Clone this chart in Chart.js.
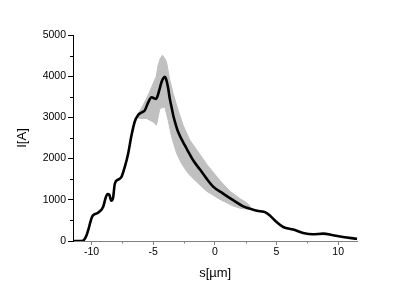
<!DOCTYPE html>
<html>
<head>
<meta charset="utf-8">
<script src="https://cdn.jsdelivr.net/npm/chart.js@4/dist/chart.umd.min.js"></script>
<style>
  html, body { margin: 0; padding: 0; background: #fff; }
  #wrap { width: 415px; height: 289px; position: relative; }
</style>
</head>
<body>
<div id="wrap"><canvas id="c" width="415" height="289"></canvas></div>
<script>
// ---- data ----
const sMean = [-11.5, -10.8, -10.6, -10.4, -10.25, -10.1, -9.95, -9.8, -9.5, -9.06, -8.85, -8.7, -8.55, -8.4, -8.25, -8.11, -7.84, -7.57, -7.3, -7.03, -6.76, -6.49, -6.22, -5.94, -5.68, -5.41, -5.13, -4.9, -4.75, -4.6, -4.45, -4.32, -4.15, -4.06, -3.95, -3.79, -3.65, -3.51, -3.38, -3.24, -2.98, -2.43, -2.3, -1.76, -1.22, -0.67, -0.14, 0.67, 1.48, 2.3, 3.11, 3.7, 4.06, 4.46, 5.0, 5.54, 6.35, 7.16, 7.95, 8.78, 9.59, 10.4, 11.35, 11.55];
const iMean = [0, 0, 30, 140, 280, 450, 590, 640, 680, 825, 1050, 1140, 1120, 980, 1050, 1390, 1490, 1555, 1800, 2120, 2560, 2900, 3060, 3120, 3170, 3360, 3490, 3460, 3450, 3560, 3720, 3860, 3960, 3985, 3930, 3720, 3450, 3250, 3060, 2900, 2650, 2320, 2250, 1960, 1740, 1515, 1320, 1150, 990, 840, 760, 720, 700, 620, 460, 340, 277, 195, 163, 180, 138, 97, 58, 50];

const sUpper = [-6.3, -6.0, -5.81, -5.41, -5.0, -4.75, -4.6, -4.4, -4.24, -4.1, -3.92, -3.65, -3.38, -2.98, -2.57, -2.03, -1.35, -0.6, 0.41, 1.22, 2.03, 2.57, 2.9];
const iUpper = [3060, 3200, 3300, 3540, 3825, 4000, 4270, 4450, 4510, 4450, 4350, 3900, 3580, 3175, 2810, 2450, 2160, 1840, 1470, 1210, 1030, 930, 840];

const sLower = [-6.3, -6.08, -5.54, -5.0, -4.73, -4.46, -4.06, -3.79, -3.51, -3.1, -2.7, -2.17, -1.48, -0.67, 0.41, 1.48, 2.1, 2.9];
const iLower = [3000, 2975, 2975, 2890, 2810, 3215, 3255, 2935, 2530, 2125, 1880, 1640, 1435, 1210, 1010, 850, 790, 770];

const xMajorTicks = [-10, -5, 0, 5, 10];
const xMinorTicks = [-7.5, -2.5, 2.5, 7.5];
const yMajorTicks = [0, 1000, 2000, 3000, 4000, 5000];
const yMinorTicks = [500, 1500, 2500, 3500, 4500];
const xTitle = 's[\u00b5m]';
const yTitle = 'I[A]';

const toPts = (xs, ys) => xs.map((x, i) => ({ x: x, y: ys[i] }));

const minorTicks = {
  id: 'minorTicks',
  afterDraw(chart) {
    const ctx = chart.ctx;
    const xs = chart.scales.x, ys = chart.scales.y;
    const area = chart.chartArea;
    ctx.save();
    ctx.lineWidth = 1;
    ctx.strokeStyle = '#808080';
    xMinorTicks.forEach(v => {
      const px = Math.round(xs.getPixelForValue(v)) + 0.5;
      ctx.beginPath();
      ctx.moveTo(px, area.bottom);
      ctx.lineTo(px, area.bottom + 2.5);
      ctx.stroke();
    });
    ctx.strokeStyle = '#000';
    yMinorTicks.forEach(v => {
      const py = Math.round(ys.getPixelForValue(v)) + 0.5;
      ctx.beginPath();
      ctx.moveTo(area.left, py);
      ctx.lineTo(area.left - 3, py);
      ctx.stroke();
    });
    ctx.restore();
  }
};

const font = { family: "'Liberation Sans', Arial, sans-serif", size: 10.5 };

new Chart(document.getElementById('c'), {
  type: 'line',
  data: {
    datasets: [
      {
        label: 'mean',
        data: toPts(sMean, iMean),
        borderColor: '#000',
        borderWidth: 2.6,
        pointRadius: 0,
        cubicInterpolationMode: 'monotone',
        fill: false,
        order: 0
      },
      {
        label: 'upper',
        data: toPts(sUpper, iUpper),
        borderColor: '#c0c0c0',
        backgroundColor: '#c0c0c0',
        borderWidth: 1,
        pointRadius: 0,
        tension: 0,
        fill: '+1',
        order: 1
      },
      {
        label: 'lower',
        data: toPts(sLower, iLower),
        borderColor: '#c0c0c0',
        borderWidth: 1,
        pointRadius: 0,
        tension: 0,
        fill: false,
        order: 2
      }
    ]
  },
  options: {
    responsive: false,
    animation: false,
    devicePixelRatio: 1,
    layout: { padding: { left: 0, top: 35, right: 57.7, bottom: 0 } },
    plugins: { legend: { display: false }, tooltip: { enabled: false } },
    scales: {
      x: {
        type: 'linear',
        min: -11.5,
        max: 11.55,
        afterBuildTicks: s => { s.ticks = xMajorTicks.map(v => ({ value: v })); },
        afterFit: s => { s.height = 48; },
        ticks: { color: '#000', font: font, padding: 1, maxRotation: 0, autoSkip: false,
                 callback: v => String(v) },
        grid: { drawOnChartArea: false, drawTicks: true, tickLength: 4, tickColor: '#808080', tickWidth: 1 },
        border: { display: true, color: '#808080', width: 1 },
        title: { display: true, text: xTitle, color: '#000',
                 font: { family: "'Liberation Sans', Arial, sans-serif", size: 13 },
                 padding: { top: 0, bottom: 8 } }
      },
      y: {
        type: 'linear',
        min: 0,
        max: 5000,
        afterBuildTicks: s => { s.ticks = yMajorTicks.map(v => ({ value: v })); },
        afterFit: s => { s.width = 73; },
        ticks: { color: '#000', font: font, padding: 2, autoSkip: false,
                 callback: v => String(v) },
        grid: { drawOnChartArea: false, drawTicks: true, tickLength: 5, tickColor: '#000', tickWidth: 1 },
        border: { display: true, color: '#000', width: 1 },
        title: { display: true, text: yTitle, color: '#000',
                 font: { family: "'Liberation Sans', Arial, sans-serif", size: 13 },
                 padding: { top: 15, bottom: 0 } }
      }
    }
  },
  plugins: [minorTicks]
});
</script>
</body>
</html>
